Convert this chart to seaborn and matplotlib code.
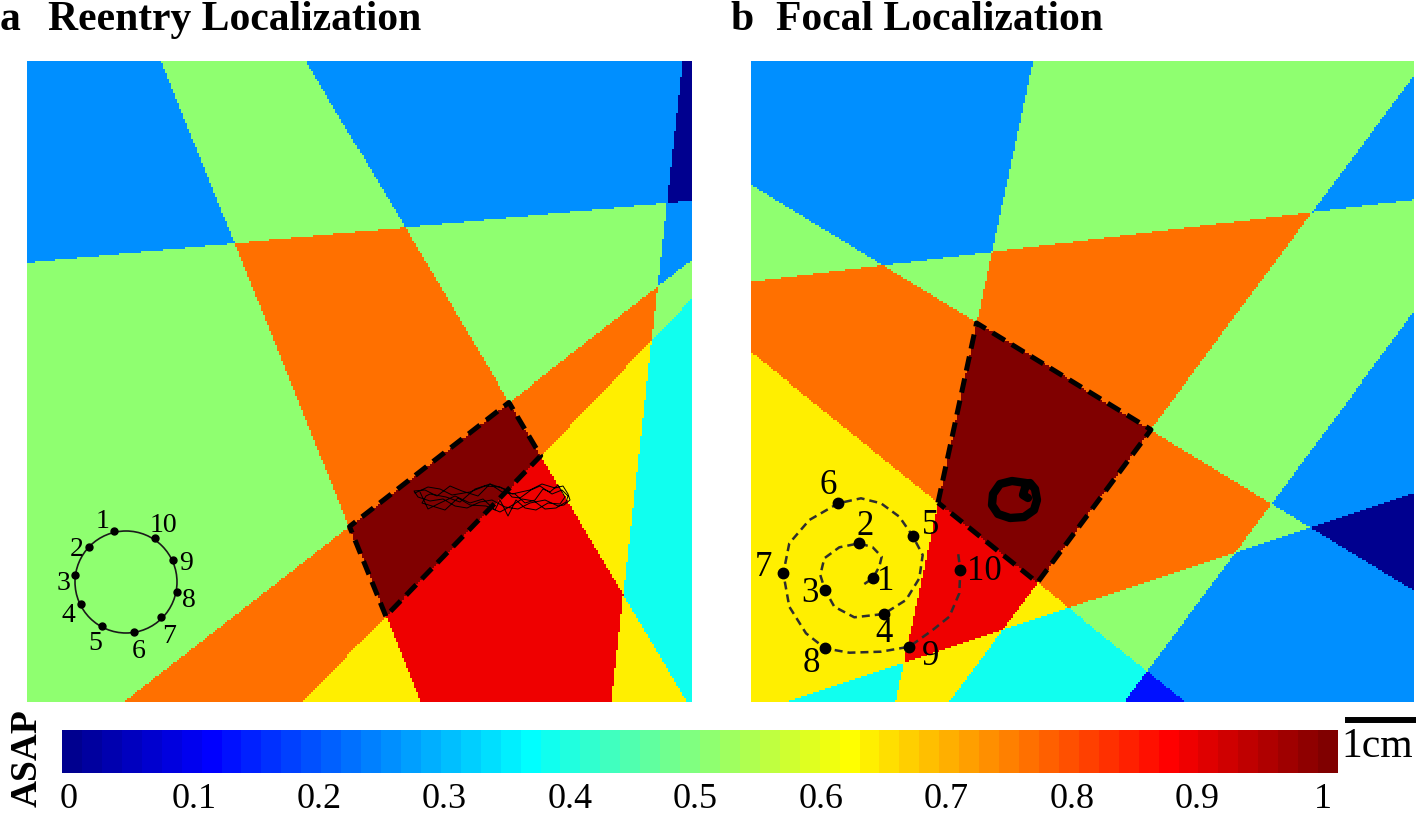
import numpy as np
import matplotlib
matplotlib.use("Agg")
import matplotlib.pyplot as plt
import seaborn as sns
from matplotlib.colors import ListedColormap, Normalize
from matplotlib.cm import ScalarMappable
from matplotlib.lines import Line2D
from matplotlib.patches import Ellipse

W, H = 1416, 813

# map boxes in picture pixels: left, right, top, bottom
box_a = (27, 692, 61, 702)
box_b = (751, 1414, 61, 702)

# lines splitting each map (x start, y start, x end, y end) and the ASAP they cost
lines_a = [(161, 61, 421, 703), (27, 263, 669, 203), (306, 61, 687, 702),
           (683, 60, 611, 703), (124, 702, 692, 260), (303, 702, 692, 299)]
weights_a = [0.25, 0.25, 0.25, 0.25, 0.25, 0.125]
source_a = (445, 510)

lines_b = [(1033, 60, 895, 703), (751, 282, 1413, 200), (751, 185, 1413, 590),
           (1413, 77, 948, 703), (752, 353, 1187, 703), (783, 703, 1413, 493),
           (1413, 313, 1124, 703)]
weights_b = [0.25, 0.25, 0.25, 0.25, 0.125, 0.25, 0.25]
source_b = (1040, 450)

# circular catheter, panel a
cath_a_x = [113.7, 88.7, 75.3, 81.3, 102, 134.3, 161.3, 177, 172.7, 154.7]
cath_a_y = [530.7, 546.7, 575, 604.3, 626, 632.3, 617.3, 591.7, 560, 538.3]
lab_a_x = [103, 76.3, 63, 68.7, 95.3, 138.7, 168.7, 188.7, 186.3, 163.7]
lab_a_y = [521.7, 549.3, 583.3, 615, 643.3, 651.7, 636.7, 600, 563, 525]
ring_a = (126, 582, 51)

# reentry tip trajectory, panel a
traj_a_x = [415, 428, 440, 452, 470, 485, 500, 512, 530, 542, 555, 563, 568, 570, 564,
            558, 545, 530, 518, 505, 492, 480, 467, 455, 443, 430, 418, 414, 425, 437,
            450, 462, 478, 490, 505, 512, 520, 531, 540, 552, 562, 568, 566, 556, 545,
            534, 522, 511, 500, 486, 470, 458, 445, 432, 422, 426, 430, 446, 460, 475,
            490, 502, 515, 525, 535, 543, 550, 558, 565, 560, 548, 536, 525, 516, 508,
            500, 495, 483, 470, 455, 440, 428, 420]
traj_a_y = [493, 487, 489, 495, 492, 486, 487, 494, 490, 484, 488, 486, 494, 500, 505,
            506, 500, 503, 509, 507, 500, 502, 508, 506, 499, 501, 497, 491, 490, 496,
            486, 491, 496, 484, 489, 497, 498, 490, 486, 494, 490, 496, 502, 508, 509,
            501, 499, 506, 512, 506, 505, 498, 510, 506, 503, 496, 494, 497, 502, 489,
            484, 492, 494, 503, 500, 489, 492, 485, 497, 504, 503, 510, 508, 500, 516,
            500, 510, 499, 503, 496, 503, 509, 492]

# spiral catheter, panel b (electrodes 1..10 and the path through them)
cath_b_x = [872.7, 859.3, 825, 883.7, 912.7, 838.3, 783.3, 825, 909.3, 960.3]
cath_b_y = [578.3, 543.3, 590, 614, 536, 503.3, 573.3, 648.3, 646.7, 570]
lab_b_x = [886, 865, 810.3, 884.3, 931, 828.3, 763.7, 811, 931, 984.3]
lab_b_y = [581.7, 526.7, 593.3, 633.3, 525, 485, 567.3, 663.3, 656.7, 571.7]
spiral_b_x = [864.3, 872.7, 879.3, 881.7, 872.7, 859.3, 839.3, 824.3, 820.3, 825, 834.3,
              854.3, 883.7, 906, 919.3, 922.7, 912.7, 899.3, 881, 861, 838.3, 809.3,
              789.3, 783.3, 789.3, 806, 825, 849.3, 881, 909.3, 932.7, 949.3, 959.3,
              960.3, 957.7]
spiral_b_y = [584, 578.3, 566.7, 556.7, 547.3, 543.3, 547.3, 558.3, 575, 590, 606.7,
              617.3, 614, 600, 578.3, 555, 536, 516.7, 503.3, 498.3, 503.3, 520,
              543.3, 573.3, 606.7, 633.3, 648.3, 652.7, 651.7, 646.7, 630, 616.7, 593.3,
              570, 550]

# focal source loop, panel b
focal_b_x = [1026, 1012, 1000, 993, 992, 998, 1010, 1024, 1034, 1037, 1035, 1030, 1025, 1023, 1028]
focal_b_y = [483, 481, 484, 494, 505, 514, 518, 517, 510, 500, 489, 483, 488, 495, 498]

tick_vals = [0, 0.1, 0.2, 0.3, 0.4, 0.5, 0.6, 0.7, 0.8, 0.9, 1]
tick_text = ['0', '0.1', '0.2', '0.3', '0.4', '0.5', '0.6', '0.7', '0.8', '0.9', '1']


def matlab_jet(m=64):
    n = m // 4
    u = np.r_[np.arange(1, n + 1) / n, np.ones(n - 1), np.arange(n, 0, -1) / n]
    g = n // 2 + np.arange(1, len(u) + 1)
    rgb = np.zeros((m, 3))
    for col, idx in ((0, g + n), (1, g), (2, g - n)):
        ok = (idx >= 1) & (idx <= m)
        rgb[idx[ok] - 1, col] = u[ok]
    return ListedColormap(rgb)


def asap_grid(box, lines, weights, src, step=2.0):
    x0, x1, y0, y1 = box
    nx, ny = int(round((x1 - x0) / step)), int(round((y1 - y0) / step))
    xs = x0 + (np.arange(nx) + 0.5) * (x1 - x0) / nx
    ys = y0 + (np.arange(ny) + 0.5) * (y1 - y0) / ny
    X, Y = np.meshgrid(xs, ys)
    val = np.ones_like(X)
    for (lx0, ly0, lx1, ly1), w in zip(lines, weights):
        side = np.sign((lx1 - lx0) * (Y - ly0) - (ly1 - ly0) * (X - lx0))
        ref = np.sign((lx1 - lx0) * (src[1] - ly0) - (ly1 - ly0) * (src[0] - lx0))
        val -= w * (side != ref)
    return np.clip(val, 0, 1)


def best_region(box, lines, src):
    # polygon where every line is passed (ASAP = 1)
    x0, x1, y0, y1 = box
    poly = [(x0, y0), (x1, y0), (x1, y1), (x0, y1)]
    for (lx0, ly0, lx1, ly1) in lines:
        f = lambda p: (lx1 - lx0) * (p[1] - ly0) - (ly1 - ly0) * (p[0] - lx0)
        s = np.sign(f(src))
        out = []
        for i in range(len(poly)):
            p, q = poly[i], poly[(i + 1) % len(poly)]
            fp, fq = f(p) * s, f(q) * s
            if fp >= 0:
                out.append(p)
            if fp * fq < 0:
                t = fp / (fp - fq)
                out.append((p[0] + t * (q[0] - p[0]), p[1] + t * (q[1] - p[1])))
        poly = out
    return poly


plt.rcParams['font.family'] = ['Liberation Serif', 'DejaVu Serif']
cmap = matlab_jet(64)
fig = plt.figure(figsize=(W / 100, H / 100), dpi=100)


def draw_panel(box, lines, weights, src):
    x0, x1, y0, y1 = box
    ax = fig.add_axes([x0 / W, 1 - y1 / H, (x1 - x0) / W, (y1 - y0) / H])
    grid = asap_grid(box, lines, weights, src)
    sns.heatmap(grid, ax=ax, cmap=cmap, vmin=0, vmax=1, cbar=False,
                xticklabels=False, yticklabels=False)
    ny, nx = grid.shape
    sx, sy = (x1 - x0) / nx, (y1 - y0) / ny

    def to(x, y):
        return (np.asarray(x, float) - x0) / sx, (np.asarray(y, float) - y0) / sy

    poly = best_region(box, lines, src)
    poly = poly + [poly[0]]
    px, py = to([p[0] for p in poly], [p[1] for p in poly])
    ax.plot(px, py, color='k', lw=3.6, dashes=(2.9, 1.6),
            dash_capstyle='butt', solid_joinstyle='miter')
    return ax, to, sx, sy


# panel a
ax_a, to_a, sxa, sya = draw_panel(box_a, lines_a, weights_a, source_a)
cx, cy = to_a(ring_a[0], ring_a[1])
ax_a.add_patch(Ellipse((cx, cy), 2 * ring_a[2] / sxa, 2 * ring_a[2] / sya,
                       fill=False, ec='#1a1a1a', lw=1.2))
u, v = to_a(cath_a_x, cath_a_y)
ax_a.plot(u, v, 'o', color='k', ms=5, ls='none')
u, v = to_a(lab_a_x, lab_a_y)
for i, (uu, vv) in enumerate(zip(u, v)):
    ax_a.text(uu, vv, str(i + 1), ha='center', va='center', fontsize=20)
u, v = to_a(traj_a_x, traj_a_y)
ax_a.plot(u, v, color='k', lw=0.7)

# panel b
ax_b, to_b, sxb, syb = draw_panel(box_b, lines_b, weights_b, source_b)
u, v = to_b(spiral_b_x, spiral_b_y)
ax_b.plot(u, v, color='#2e2e2e', lw=1.8, dashes=(3.2, 2.0))
u, v = to_b(cath_b_x, cath_b_y)
ax_b.plot(u, v, 'o', color='k', ms=7.5, ls='none')
u, v = to_b(lab_b_x, lab_b_y)
for i, (uu, vv) in enumerate(zip(u, v)):
    ax_b.text(uu, vv, str(i + 1), ha='center', va='center', fontsize=25)
u, v = to_b(focal_b_x, focal_b_y)
ax_b.plot(u, v, color='k', lw=6, solid_capstyle='round', solid_joinstyle='round')

# titles
fig.text(0 / W, 1 - 30 / H, 'a', fontsize=30, weight='bold', va='baseline')
fig.text(48 / W, 1 - 30 / H, 'Reentry Localization', fontsize=30, weight='bold', va='baseline')
fig.text(730 / W, 1 - 30 / H, 'b', fontsize=30, weight='bold', va='baseline')
fig.text(776 / W, 1 - 30 / H, 'Focal Localization', fontsize=30, weight='bold', va='baseline')

# colorbar
cax = fig.add_axes([62 / W, 1 - 773 / H, 1276 / W, 43 / H])
sm = ScalarMappable(norm=Normalize(-0.005, 1.012), cmap=cmap)
cb = fig.colorbar(sm, cax=cax, orientation='horizontal', ticks=tick_vals)
cb.ax.set_xticklabels(tick_text)
cb.outline.set_visible(False)
cax.tick_params(length=0, pad=7, labelsize=26)
fig.text(27 / W, 1 - 758 / H, 'ASAP', rotation=90, fontsize=27, weight='bold',
         ha='center', va='center')

# 1 cm scale bar
fig.add_artist(Line2D([1348 / W, 1414 / W], [1 - 720 / H, 1 - 720 / H], color='k', lw=4.3))
fig.text(1377 / W, 1 - 747 / H, '1cm', fontsize=30, ha='center', va='center')

fig.savefig('out.png', dpi=100)
